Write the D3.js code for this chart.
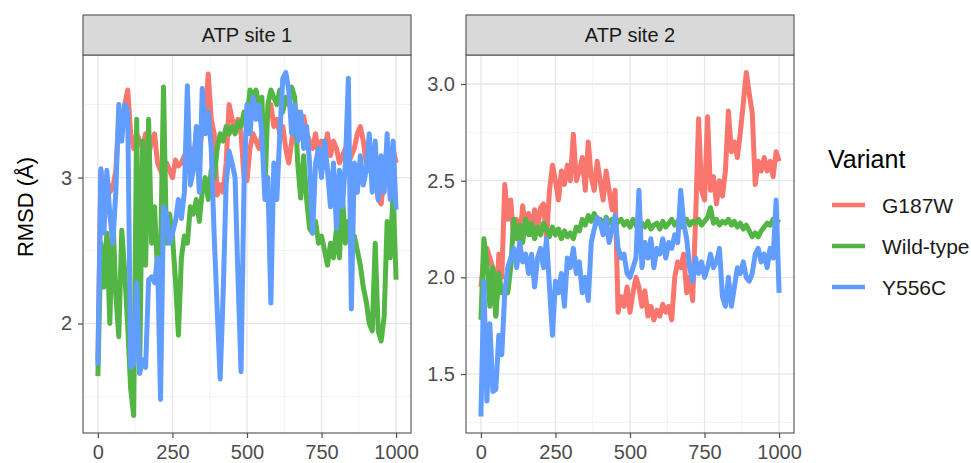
<!DOCTYPE html>
<html>
<head>
<meta charset="utf-8">
<script src="https://cdn.jsdelivr.net/npm/d3@7"></script>
<style>
  body { margin: 0; background: #fff; }
  text { font-family: "Liberation Sans", Arial, Helvetica, sans-serif; }
</style>
</head>
<body>
<div id="chart"></div>
<script>
// frame index of every sample
var frames = d3.range(0, 1001, 10);

var variants = ["G187W", "Wild-type", "Y556C"];
var colours = ["#F8766D", "#53B543", "#619CFF"];

// ATP site 1, RMSD (Å)
var site1_G187W = [
  1.75, 3.05, 2.85, 3.00, 2.90, 2.93, 3.05, 3.40, 3.35, 3.50,
  3.60, 3.30, 3.20, 3.30, 3.25, 3.20, 3.30, 3.15, 3.25, 3.30,
  3.10, 3.05, 3.00, 3.10, 3.05, 3.00, 3.12, 3.08, 3.10, 3.15,
  3.05, 3.20, 3.10, 3.30, 3.15, 3.35, 3.40, 3.71, 3.40, 3.30,
  2.88, 2.95, 2.90, 3.10, 3.50, 3.40, 3.35, 3.40, 3.30, 3.00,
  2.98, 3.20, 3.30, 3.25, 3.20, 3.30, 3.25, 3.45, 3.50, 3.35,
  3.40, 3.30, 3.35, 3.20, 3.10, 3.25, 3.40, 3.45, 3.35, 3.42,
  3.30, 3.25, 3.20, 3.30, 3.15, 3.25, 3.20, 3.30, 3.15, 3.25,
  3.20, 3.10, 3.15, 3.20, 3.10, 3.15, 3.20, 3.30, 3.35, 3.25,
  3.10, 3.05, 3.15, 3.00, 2.85, 2.82, 3.00, 3.15, 3.05, 3.20,
  3.10
];
var site1_WT = [
  1.64, 2.55, 2.25, 2.62, 2.00, 2.75, 2.20, 1.91, 2.64, 2.35,
  1.98, 1.55, 1.37, 3.40, 1.66, 3.25, 2.40, 3.40, 2.55, 2.80,
  2.35, 2.45, 3.62, 2.55, 2.75, 2.60, 2.30, 1.92, 2.45, 2.60,
  2.55, 2.80, 2.75, 2.85, 2.70, 2.90, 3.00, 2.85, 3.05, 3.00,
  3.20, 3.30, 3.25, 3.35, 3.30, 3.35, 3.30, 3.38, 3.35, 3.45,
  3.40, 3.60, 3.55, 3.60, 3.50, 3.55, 2.90, 3.50, 3.60, 3.55,
  3.50, 3.60, 3.45, 3.55, 3.50, 3.62, 3.55, 3.10, 2.86, 3.15,
  2.85, 2.65, 2.62, 2.70, 2.55, 2.60, 2.50, 2.40, 2.55, 2.45,
  2.65, 2.45, 2.88, 2.55, 2.70, 2.55, 2.60, 2.50, 2.40, 2.25,
  2.15, 2.00, 1.95, 2.55, 1.95, 1.88, 2.05, 2.70, 2.45, 2.90,
  2.30
];
var site1_Y556C = [
  1.71, 3.06, 2.62, 3.05, 2.75, 2.55, 2.90, 3.50, 3.25, 3.50,
  3.45, 1.70, 1.72, 2.28, 1.66, 1.75, 1.70, 2.30, 2.32, 2.28,
  2.45, 1.48, 2.80, 2.75, 2.55, 2.62, 2.70, 2.85, 2.72, 2.90,
  3.63, 2.95, 3.05, 3.35, 2.90, 3.61, 3.30, 3.45, 3.20, 2.60,
  2.10, 1.62, 2.20, 2.95, 3.18, 3.10, 3.00, 2.30, 1.67, 2.95,
  3.50, 3.30, 3.55, 3.40, 3.50, 3.30, 2.85, 3.00, 2.14, 3.10,
  2.85, 3.30, 3.68, 3.72, 3.60, 3.30, 3.50, 3.25, 3.45, 3.20,
  3.35, 3.10, 2.62, 3.10, 3.20, 3.00, 3.25, 3.05, 2.80, 3.10,
  2.65, 3.05, 2.80, 3.10, 3.68, 2.10, 3.10, 2.90, 3.15, 2.95,
  3.05, 3.30, 2.90, 3.25, 2.85, 3.15, 2.90, 3.30, 2.85, 3.25,
  2.78
];

// ATP site 2, RMSD (Å)
var site2_G187W = [
  1.95, 2.10, 2.15, 2.10, 2.05, 1.80, 2.12, 2.00, 2.48, 2.30,
  2.40, 2.20, 2.30, 2.18, 2.37, 2.25, 2.33, 2.22, 2.35, 2.25,
  2.36, 2.38, 2.20, 2.45, 2.58, 2.50, 2.40, 2.55, 2.48, 2.58,
  2.50, 2.74, 2.50, 2.55, 2.62, 2.45, 2.70, 2.52, 2.45, 2.60,
  2.50, 2.40, 2.55, 2.45, 2.35, 2.45, 1.82, 1.90, 1.85, 1.95,
  1.82, 1.92, 2.00, 1.95, 1.85, 1.93, 1.80, 1.85, 1.78, 1.83,
  1.80, 1.86, 1.82, 1.85, 1.78, 2.00, 2.08, 2.05, 2.12, 1.92,
  2.00, 1.88, 2.30, 2.82, 2.45, 2.40, 2.83, 2.45, 2.52, 2.38,
  2.50, 2.42, 2.55, 2.86, 2.65, 2.70, 2.62, 2.75, 2.90, 3.06,
  2.95, 2.85, 2.48, 2.60, 2.55, 2.62, 2.55, 2.60, 2.52, 2.65,
  2.60
];
var site2_WT = [
  1.78, 2.20, 2.08, 1.85, 2.05, 1.80, 2.02, 1.92, 1.95, 1.92,
  2.05, 2.30, 2.20, 2.27, 2.18, 2.30, 2.22, 2.28, 2.20, 2.26,
  2.22, 2.28, 2.25, 2.21, 2.26, 2.22, 2.25, 2.20, 2.24, 2.21,
  2.23, 2.20, 2.26, 2.24, 2.30, 2.27, 2.32, 2.29, 2.33, 2.28,
  2.30, 2.27, 2.31, 2.28, 2.30, 2.26, 2.29, 2.30, 2.27, 2.29,
  2.26, 2.30, 2.27, 2.25, 2.28, 2.26, 2.29, 2.25, 2.27, 2.28,
  2.25, 2.29, 2.26, 2.28, 2.30, 2.27, 2.29, 2.26, 2.28, 2.30,
  2.27, 2.29, 2.28, 2.30, 2.27, 2.29, 2.31, 2.36, 2.28, 2.30,
  2.27, 2.29, 2.28, 2.30, 2.27, 2.29, 2.26, 2.28, 2.25, 2.27,
  2.24, 2.21, 2.23, 2.21, 2.24, 2.26, 2.28, 2.27, 2.30, 2.28,
  2.30
];
var site2_Y556C = [
  1.28, 1.98, 1.36, 1.76, 1.41, 1.42, 1.70, 1.60, 1.92, 2.05,
  2.10, 2.15, 2.05, 2.18, 2.08, 2.12, 2.02, 2.12, 1.95, 2.10,
  2.15, 2.05, 2.20, 1.95, 1.70, 1.98, 1.92, 2.02, 1.85, 2.10,
  2.05, 2.15, 2.02, 2.08, 1.92, 2.00, 1.88, 2.18, 2.25, 2.31,
  2.28, 2.22, 2.30, 2.18, 2.25, 2.32, 2.15, 2.10, 2.12, 2.02,
  2.00, 2.05, 2.10, 2.45, 2.05, 2.18, 2.10, 2.20, 2.05, 2.15,
  2.12, 2.20, 2.10, 2.18, 2.15, 2.22, 2.18, 2.45, 2.28, 2.20,
  2.05, 1.98, 2.10, 2.02, 2.08, 2.00, 2.05, 2.12, 2.05, 2.08,
  2.15, 1.90, 1.85, 2.00, 1.85, 1.95, 2.05, 2.02, 2.08, 2.00,
  1.98, 2.02, 2.12, 2.15, 2.08, 2.12, 2.05, 2.15, 2.10, 2.40,
  1.92
];

var xTicks = [0, 250, 500, 750, 1000];
var xMinor = [125, 375, 625, 875];

var facets = [
  { title: "ATP site 1", series: [site1_G187W, site1_WT, site1_Y556C],
    yDomain: [1.25, 3.84], yTicks: [2, 3], yMinor: [1.5, 2.5, 3.5],
    fmt: d3.format("d"), left: 83 },
  { title: "ATP site 2", series: [site2_G187W, site2_WT, site2_Y556C],
    yDomain: [1.195, 3.15], yTicks: [1.5, 2, 2.5, 3], yMinor: [1.25, 1.75, 2.25, 2.75],
    fmt: d3.format(".1f"), left: 466 }
];

var width = 971, height = 463;
var panelW = 328, stripTop = 15, panelTop = 55, panelBottom = 433;

var svg = d3.select("#chart").append("svg")
  .attr("width", width)
  .attr("height", height);

facets.forEach(function(f) {
  var x = d3.scaleLinear().domain([-50, 1050]).range([f.left, f.left + panelW]);
  var y = d3.scaleLinear().domain(f.yDomain).range([panelBottom, panelTop]);
  var g = svg.append("g");

  // grid
  g.selectAll(".xminor").data(xMinor).enter().append("line")
    .attr("x1", d => x(d)).attr("x2", d => x(d))
    .attr("y1", panelTop).attr("y2", panelBottom)
    .attr("stroke", "#F3F3F3").attr("stroke-width", 1);
  g.selectAll(".yminor").data(f.yMinor).enter().append("line")
    .attr("x1", f.left).attr("x2", f.left + panelW)
    .attr("y1", d => y(d)).attr("y2", d => y(d))
    .attr("stroke", "#F3F3F3").attr("stroke-width", 1);
  g.selectAll(".xmajor").data(xTicks).enter().append("line")
    .attr("x1", d => x(d)).attr("x2", d => x(d))
    .attr("y1", panelTop).attr("y2", panelBottom)
    .attr("stroke", "#E6E6E6").attr("stroke-width", 1.3);
  g.selectAll(".ymajor").data(f.yTicks).enter().append("line")
    .attr("x1", f.left).attr("x2", f.left + panelW)
    .attr("y1", d => y(d)).attr("y2", d => y(d))
    .attr("stroke", "#E6E6E6").attr("stroke-width", 1.3);

  // lines
  var line = d3.line()
    .x(function(d, i) { return x(frames[i]); })
    .y(function(d) { return y(d); });

  f.series.forEach(function(s, k) {
    g.append("path")
      .datum(s)
      .attr("d", line)
      .attr("fill", "none")
      .attr("stroke", colours[k])
      .attr("stroke-width", 5)
      .attr("stroke-linejoin", "round");
  });

  // border
  g.append("rect")
    .attr("x", f.left).attr("y", panelTop)
    .attr("width", panelW).attr("height", panelBottom - panelTop)
    .attr("fill", "none").attr("stroke", "#5e5e5e").attr("stroke-width", 1.2);

  // strip
  g.append("rect")
    .attr("x", f.left).attr("y", stripTop)
    .attr("width", panelW).attr("height", panelTop - stripTop)
    .attr("fill", "#D9D9D9").attr("stroke", "#5e5e5e").attr("stroke-width", 1.2);
  g.append("text")
    .attr("x", f.left + panelW / 2).attr("y", (stripTop + panelTop) / 2)
    .attr("dy", "0.36em")
    .attr("text-anchor", "middle")
    .attr("font-size", 20)
    .attr("fill", "#1A1A1A")
    .text(f.title);

  // axes
  var xAxis = g.append("g")
    .attr("transform", "translate(0," + panelBottom + ")")
    .call(d3.axisBottom(x).tickValues(xTicks).tickFormat(d3.format("d")).tickSize(5).tickPadding(7));
  var yAxis = g.append("g")
    .attr("transform", "translate(" + f.left + ",0)")
    .call(d3.axisLeft(y).tickValues(f.yTicks).tickFormat(f.fmt).tickSize(5).tickPadding(6));

  [xAxis, yAxis].forEach(function(a) {
    a.select(".domain").remove();
    a.selectAll(".tick line").attr("stroke", "#4D4D4D").attr("stroke-width", 1.2);
    a.selectAll(".tick text")
      .attr("font-size", 20)
      .attr("fill", "#4D4D4D")
      .style("font-family", "'Liberation Sans', Arial, sans-serif");
  });
});

// y axis title
svg.append("text")
  .attr("transform", "translate(25,207) rotate(-90)")
  .attr("dy", "0.36em")
  .attr("text-anchor", "middle")
  .attr("font-size", 22)
  .attr("fill", "#000")
  .text("RMSD (Å)");

// legend
var legend = svg.append("g");
legend.append("text")
  .attr("x", 828).attr("y", 168)
  .attr("font-size", 25)
  .attr("fill", "#000")
  .text("Variant");

var items = legend.selectAll(".item").data(variants).enter().append("g")
  .attr("transform", function(d, i) { return "translate(0," + (205 + i * 41) + ")"; });
items.append("line")
  .attr("x1", 832).attr("x2", 865)
  .attr("stroke", function(d, i) { return colours[i]; })
  .attr("stroke-width", 4.5);
items.append("text")
  .attr("x", 882).attr("dy", "0.36em")
  .attr("font-size", 21)
  .attr("fill", "#1A1A1A")
  .text(function(d) { return d; });
</script>
</body>
</html>
